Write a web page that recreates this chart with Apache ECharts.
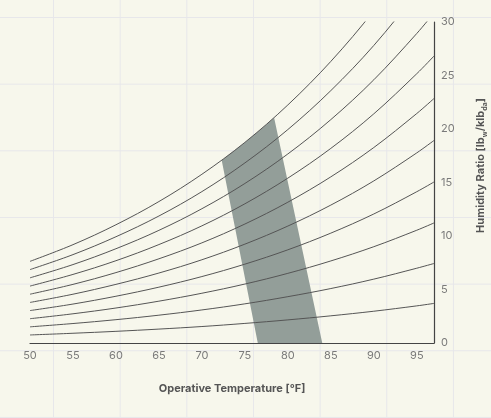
<!DOCTYPE html>
<html>
<head>
<meta charset="utf-8">
<script src="https://cdn.jsdelivr.net/npm/echarts@6/dist/echarts.min.js"></script>
<style>
  html, body {
    margin: 0;
    padding: 0;
    width: 491px;
    height: 418px;
    overflow: hidden;
    background-color: #f7f7ec;
    background-image:
      linear-gradient(to right, #e7e7ea 1px, transparent 1px),
      linear-gradient(to bottom, #e7e7ea 1px, transparent 1px);
    background-size: 66.67px 66.67px;
    background-position: 53px 17px;
  }
  #chart {
    width: 491px;
    height: 418px;
  }
</style>
</head>
<body>
<div id="chart"></div>
<script>
// dry-bulb temperatures (°F) where the curves are sampled
const temps = [50, 55, 60, 65, 70, 75, 80, 85, 90, 95, 97];

// humidity ratio [lb_w/klb_da] per relative humidity curve
const rh10 = [0.75, 0.91, 1.09, 1.30, 1.54, 1.83, 2.16, 2.54, 2.97, 3.47, 3.70];
const rh20 = [1.51, 1.82, 2.18, 2.60, 3.09, 3.66, 4.33, 5.09, 5.97, 6.99, 7.43];
const rh30 = [2.27, 2.73, 3.27, 3.91, 4.65, 5.51, 6.51, 7.67, 9.00, 10.54, 11.22];
const rh40 = [3.03, 3.64, 4.37, 5.22, 6.21, 7.37, 8.71, 10.27, 12.06, 14.14, 15.05];
const rh50 = [3.79, 4.56, 5.48, 6.54, 7.78, 9.24, 10.93, 12.89, 15.15, 17.77, 18.93];
const rh60 = [4.56, 5.48, 6.58, 7.87, 9.36, 11.12, 13.16, 15.53, 18.27, 21.45, 22.85];
const rh70 = [5.32, 6.41, 7.69, 9.20, 10.95, 13.01, 15.41, 18.19, 21.42, 25.17, 26.82];
const rh80 = [6.09, 7.33, 8.81, 10.53, 12.55, 14.91, 17.67, 20.88, 24.60, 28.93, 30.85];
const rh90 = [6.86, 8.26, 9.93, 11.87, 14.15, 16.83, 19.95, 23.59, 27.81, 32.73, 34.9];
const rh100 = [7.63, 9.19, 11.05, 13.22, 15.77, 18.75, 22.25, 26.32, 31.06, 36.59, 39.0];

const curves = [rh10, rh20, rh30, rh40, rh50, rh60, rh70, rh80, rh90, rh100];

// comfort zone outline [temp, humidity ratio]
const comfortZone = [
  [76.5, 0],
  [84.0, 0],
  [78.4, 21.05],
  [77.0, 20.08],
  [76.0, 19.41],
  [75.0, 18.75],
  [74.0, 18.12],
  [72.3, 17.09],
];

const labelFont = "Inter";

const curveSeries = curves.map((vals, i) => ({
  name: "RH " + (i + 1) * 10 + "%",
  type: "line",
  data: temps.map((t, k) => [t, vals[k]]),
  smooth: 0.35,
  symbol: "none",
  silent: true,
  z: 3,
  lineStyle: { color: "#555", width: 1 },
}));

const zoneSeries = {
  name: "comfort",
  type: "custom",
  silent: true,
  z: 2,
  data: [0],
  renderItem: function (params, api) {
    const pts = comfortZone.map((p) => api.coord(p));
    return {
      type: "polygon",
      shape: { points: pts },
      style: { fill: "#939e99" },
    };
  },
};

const myChart = echarts.init(document.getElementById("chart"), null, {
  renderer: "canvas",
});

myChart.setOption({
  animation: false,
  grid: {
    left: 30,
    right: 57,
    top: 22,
    bottom: 75,
    containLabel: false,
    outerBoundsMode: "none",
  },
  xAxis: {
    type: "value",
    min: 50,
    max: 97,
    interval: 5,
    name: "Operative Temperature [°F]",
    nameLocation: "middle",
    nameGap: 40,
    nameTextStyle: {
      color: "#555",
      fontFamily: labelFont,
      fontWeight: "bold",
      fontSize: 11,
    },
    axisLine: { show: true, lineStyle: { color: "#444", width: 1.2 } },
    axisTick: { show: false },
    splitLine: { show: false },
    axisLabel: {
      showMaxLabel: false,
      margin: 7,
      color: "#7a7a7a",
      fontFamily: labelFont,
      fontSize: 11,
    },
  },
  yAxis: {
    type: "value",
    position: "right",
    min: 0,
    max: 30,
    interval: 5,
    name: "{t|Humidity Ratio [lb}{s|w}{t|/klb}{s|da}{t|]}",
    nameLocation: "middle",
    nameGap: 40,
    nameRotate: 90,
    nameTextStyle: {
      padding: [0, 0, 0, 34],
      rich: {
        t: {
          color: "#555",
          fontFamily: labelFont,
          fontWeight: "bold",
          fontSize: 11,
          lineHeight: 14,
        },
        s: {
          color: "#555",
          fontFamily: labelFont,
          fontWeight: "bold",
          fontSize: 7,
          lineHeight: 14,
          verticalAlign: "bottom",
          padding: [5, 0, 0, 0],
        },
      },
    },
    axisLine: { show: true, lineStyle: { color: "#444", width: 1.2 } },
    axisTick: { show: false },
    splitLine: { show: false },
    axisLabel: {
      margin: 7,
      color: "#7a7a7a",
      fontFamily: labelFont,
      fontSize: 11,
    },
  },
  series: [zoneSeries].concat(curveSeries),
});
</script>
</body>
</html>
